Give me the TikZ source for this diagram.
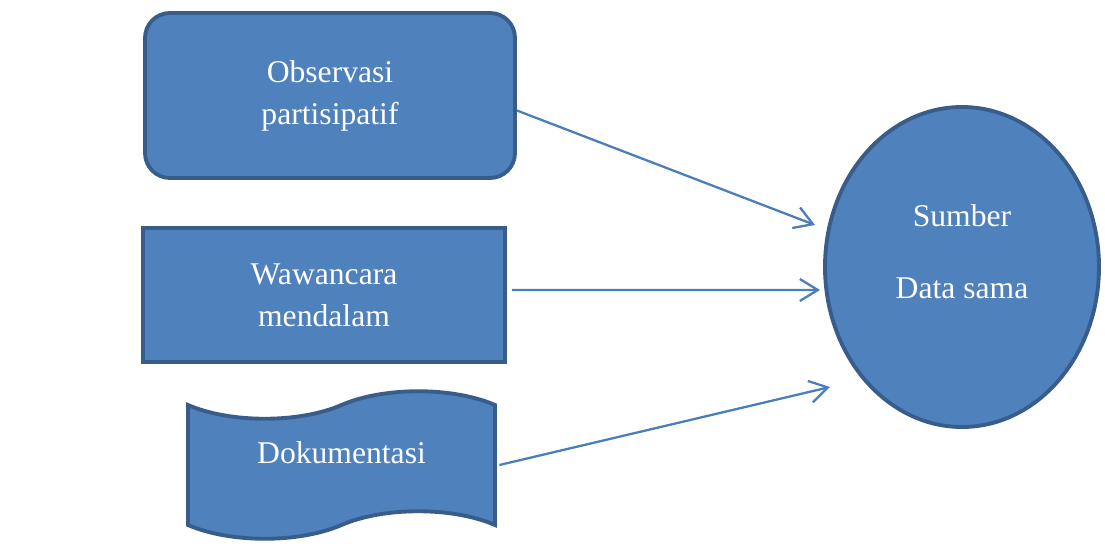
\documentclass[tikz,border=0pt]{standalone}
\usepackage{fontspec}
\setmainfont{Liberation Serif}
\usetikzlibrary{shapes.geometric,shapes.symbols,arrows.meta}
\definecolor{boxfill}{HTML}{4F81BD}
\definecolor{boxline}{HTML}{385D8A}
\definecolor{arrline}{HTML}{4A7EBB}
\tikzset{
  blok/.style={draw=boxline, fill=boxfill, line width=2.2pt, text=white, align=center,
    font=\fontsize{18}{24}\selectfont},
  panah/.style={draw=arrline, line width=1.3pt, -{Straight Barb[length=0.36cm,width=0.44cm]}}
}
\begin{document}
\begin{tikzpicture}
	\useasboundingbox (0,0) rectangle (22.1,-10.88);
	\node[blok, rounded corners=0.5cm, minimum width=7.4cm, minimum height=3.3cm] (obs) at (6.6,-1.91) {Observasi\\partisipatif};
	\node[blok, minimum width=7.24cm, minimum height=2.68cm] (wwc) at (6.48,-5.9) {Wawancara\\mendalam};
	\node[blok, tape, tape bend height=0.55cm, minimum width=6.14cm, minimum height=2.95cm] (dok) at (6.83,-9.3) {};
	\node[text=white, font=\fontsize{18}{24}\selectfont] at (6.83,-9.05) {Dokumentasi};
	\node[blok, ellipse, minimum width=5.48cm, minimum height=6.4cm, inner sep=0pt] (sumber) at (19.24,-5.34) {};
	\node[text=white, align=center, font=\fontsize{18}{24}\selectfont] at ([yshift=0.3cm]sumber.center) {Sumber\\[0.6cm]Data sama};
	% ujung panah
	\coordinate (t1) at (16.3,-4.5);
	\coordinate (t2) at (16.4,-5.8);
	\coordinate (t3) at (16.6,-7.74);
	\draw[panah] ([yshift=-0.3cm]obs.east) -- (t1);
	\draw[panah] ([xshift=0.1cm,yshift=0.1cm]wwc.east) -- (t2);
	\draw[panah] ([xshift=0.05cm]dok.east) -- (t3);
\end{tikzpicture}
\end{document}
